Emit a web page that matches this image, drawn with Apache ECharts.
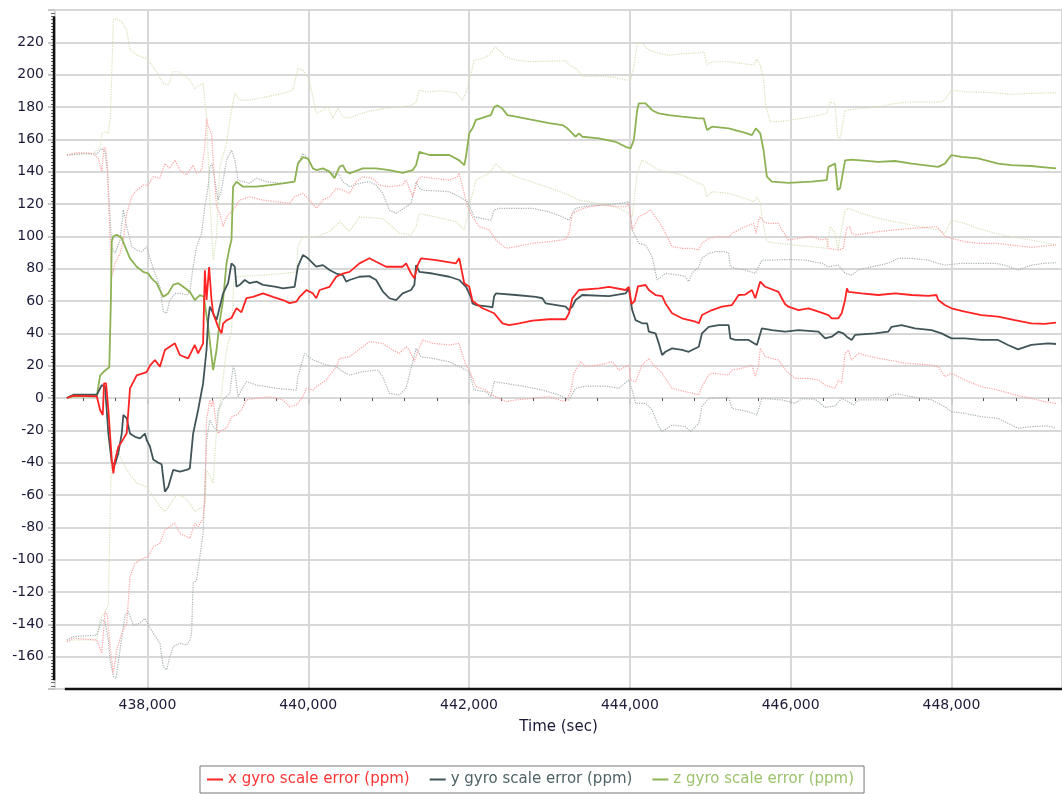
<!DOCTYPE html>
<html>
<head>
<meta charset="utf-8">
<script src="https://cdn.jsdelivr.net/npm/echarts@6.0.0/dist/echarts.min.js"></script>
<style>
  html, body { margin: 0; padding: 0; background: #ffffff; }
  #chart { width: 1062px; height: 794px; }
</style>
</head>
<body>
<div id="chart"></div>
<script>
// Gyro scale-factor error estimates (ppm) over time (s).
// Solid lines: filter estimate; dotted lines: upper / lower uncertainty bound.

const X_NAME = 'x gyro scale error (ppm)';
const Y_NAME = 'y gyro scale error (ppm)';
const Z_NAME = 'z gyro scale error (ppm)';

// ---- x axis ------------------------------------------------------------
const xMain = [
  [436997,0],[437079,1.5],[437370,1],[437411,-7.4],[437444,-10.5],[437460,9.1],[437485,9.1],[437514,-7.4],
  [437556,-38.3],[437576,-46.6],[437597,-38.3],[437638,-30.1],[437680,-27],[437742,-21.8],[437783,6],[437866,14],
  [437990,16],[438031,20],[438093,23.5],[438155,19.4],[438217,29.7],[438341,33.8],[438403,26.6],[438506,24.5],
  [438589,32.8],[438630,27.6],[438692,33.8],[438714,79],[438735,60.6],[438767,81],[438797,60.6],[438817,52.5],
  [438879,44],[438921,40],[438941,46],[438983,48],[439045,49.5],[439107,55.6],[439169,53],[439231,61.8],
  [439313,62.6],[439437,64.7],[439561,62.6],[439685,60.6],[439768,58.7],[439852,59.6],[439893,62.6],[439976,66.8],
  [440058,64.7],[440100,61.7],[440141,66.8],[440265,68.8],[440348,75],[440430,77],[440513,78],[440637,83.3],
  [440761,86.4],[440844,84.3],[440968,81.2],[441174,81.2],[441217,83.3],[441279,77],[441320,74],[441361,82.2],
  [441403,86.4],[441589,85.3],[441837,83.3],[441878,86.4],[441899,81.2],[441940,71],[442002,68.8],[442043,60],
  [442167,55.5],[442312,52.4],[442415,46.2],[442499,45.1],[442623,46.2],[442788,47.8],[442995,48.7],[443202,48.7],
  [443243,52.4],[443284,61.6],[443367,66.8],[443616,67.8],[443740,68.8],[443947,66.8],[443988,68.8],[444020,58],
  [444060,60],[444100,69],[444195,69.9],[444236,66.8],[444319,63.7],[444401,63],[444443,58.5],[444525,52.4],
  [444649,49.3],[444816,47.2],[444857,46.2],[444897,51.3],[445022,54.4],[445146,56.5],[445270,57.5],[445312,60.6],
  [445353,63.7],[445436,64],[445518,66.8],[445560,61.7],[445622,72],[445684,68.8],[445849,65.7],[445890,61.7],
  [445932,58],[445973,56.5],[446097,54.4],[446222,55.5],[446346,53.4],[446470,51.3],[446511,49.3],[446594,49.3],
  [446635,52.4],[446677,60.6],[446700,67.8],[446718,65.7],[446883,64.7],[447090,63.7],[447298,64.7],[447504,63.7],
  [447711,63.2],[447814,63.7],[447835,60.6],[447918,57.5],[448000,55.5],[448166,53.4],[448372,51.3],[448580,50.3],
  [448787,48.2],[448993,46.2],[449159,45.8],[449300,46.6]
];
const xUpper = [
  [436997,150.3],[437121,151.7],[437327,151.3],[437389,148.2],[437432,140],[437460,155.4],[437485,153.4],[437501,143],
  [437535,97.7],[437556,75],[437597,83.3],[437659,89.5],[437700,97.7],[437742,114.2],[437804,124.5],[437866,128.6],
  [437948,131.7],[438010,131.7],[438072,136.9],[438155,135.9],[438217,145],[438279,142],[438341,147.2],[438403,141],
  [438486,138],[438568,144],[438611,139],[438673,141],[438714,155.4],[438735,173],[438755,167.8],[438797,163.7],
  [438817,147.2],[438859,118.3],[438900,114.2],[438941,106],[438983,112.1],[439065,116.3],[439148,122.4],[439272,124.5],
  [439437,122.4],[439603,121.4],[439768,120.4],[439830,124.5],[439933,126.6],[440017,122.4],[440100,117.3],[440182,122.4],
  [440265,124.5],[440348,129.7],[440430,128.6],[440513,126.6],[440596,133.8],[440678,136.9],[440802,135.9],[440885,131.7],
  [441009,130.7],[441174,131.7],[441217,134.8],[441258,129.7],[441299,124.5],[441361,134.8],[441403,136.9],[441547,135.9],
  [441754,134.8],[441857,136.9],[441878,139],[441919,130.7],[441981,118.3],[442043,112],[442126,106],[442250,104],
  [442334,97.7],[442458,92.6],[442582,93.6],[442788,95.7],[442995,96.7],[443202,98.1],[443243,101.9],[443284,114.2],
  [443367,116.3],[443491,118.3],[443656,119.4],[443823,118.3],[443947,118.3],[443988,120.4],[444029,104],[444112,112.1],
  [444195,114.2],[444257,116.3],[444401,106],[444525,93.6],[444649,92.6],[444773,92.6],[444857,91.5],[444897,95.7],
  [444981,98.8],[445105,99.8],[445229,99.4],[445270,101.9],[445436,106],[445539,108],[445568,101.9],[445601,110],
  [445622,112.1],[445663,109],[445725,108],[445849,108],[445890,104],[445973,97.7],[446097,98.8],[446263,99.8],
  [446387,97.7],[446449,98.8],[446470,92.6],[446594,91.5],[446656,92.6],[446697,104.9],[446739,106],[446759,101.9],
  [446801,100.8],[447090,102.9],[447298,104],[447504,104.9],[447711,105.6],[447814,106],[447876,102.9],[447918,99.8],
  [448000,98.8],[448166,96.7],[448331,95.7],[448539,95.7],[448745,94.6],[448993,93.2],[449159,94],[449300,94.6]
];
const xLower = [
  [436997,-150.7],[437079,-148.6],[437370,-149.7],[437432,-157.9],[437473,-132.2],[437501,-134.2],[437535,-153.8],[437576,-170.3],
  [437618,-155.8],[437680,-145.5],[437742,-139.3],[437783,-110.5],[437845,-102.2],[437948,-99.1],[438010,-98.1],[438072,-92],
  [438155,-89.9],[438217,-81.6],[438341,-77.5],[438403,-83.7],[438527,-86.8],[438589,-77.5],[438630,-79.6],[438692,-74.4],
  [438714,-63.1],[438735,-13.6],[438776,-1.2],[438797,-5.4],[438817,-1.2],[438859,-17.7],[438879,-21.8],[438921,-19.8],
  [438983,-18.7],[439045,-11.6],[439107,-10.5],[439169,-7.4],[439231,-1.2],[439355,-0.2],[439520,0.8],[439685,-1.2],
  [439768,-5.4],[439852,-4.3],[439933,0.8],[439976,6],[440058,4.9],[440100,7],[440224,11.1],[440348,19.4],
  [440389,24.5],[440513,25.5],[440678,31.7],[440761,34.8],[440926,33.8],[441050,29.7],[441133,27.6],[441217,31.7],
  [441258,29.7],[441320,22.4],[441361,28.6],[441423,35.9],[441547,33.8],[441754,32.8],[441878,33.8],[441899,29.7],
  [441961,20.4],[442002,17.3],[442085,7],[442209,4.9],[442291,1.9],[442375,-0.2],[442458,-2.3],[442582,-1.2],
  [442788,-0.2],[442995,0.8],[443119,-1.2],[443202,-2.3],[443264,3.9],[443305,15.3],[443388,22.4],[443450,19.4],
  [443616,20.4],[443781,22.4],[443864,17.3],[443988,20.4],[444009,11.1],[444071,10.1],[444153,20.4],[444236,24.5],
  [444277,21.5],[444401,15.3],[444525,6],[444691,3.9],[444857,1.9],[444897,7],[444981,14.2],[445022,15.3],
  [445229,14.2],[445270,17.3],[445394,18.4],[445518,20.4],[445560,13.2],[445601,20],[445622,30.7],[445684,25.5],
  [445849,23.5],[445952,16.3],[446057,12.2],[446222,12.2],[446346,11.1],[446429,8],[446553,6],[446594,11.1],
  [446635,9.1],[446677,27.6],[446718,29.7],[446759,23.5],[446842,27.6],[447007,25.5],[447214,23.5],[447422,21.5],
  [447752,20.4],[447835,19.4],[447918,13.2],[448000,15.3],[448166,11.1],[448372,7],[448580,4.9],[448787,1.9],
  [448993,-0.2],[449159,-2.3],[449300,-3.3]
];

// ---- y axis ------------------------------------------------------------
const yMain = [
  [436997,0],[437079,2],[437370,2],[437432,8],[437473,7],[437514,-22],[437556,-40],[437597,-41],
  [437638,-34],[437680,-22],[437700,-10.5],[437742,-12.6],[437783,-22],[437845,-24],[437907,-25],[437969,-22],
  [437990,-26],[438031,-30],[438072,-38],[438134,-40],[438176,-41],[438217,-58],[438258,-55],[438320,-44.5],
  [438403,-45.6],[438486,-44.5],[438527,-43.5],[438568,-22],[438630,-7.4],[438692,9],[438735,30],[438755,48],
  [438776,56.5],[438817,52.4],[438859,48.2],[438900,56.5],[438941,64.7],[439003,71],[439045,83.3],[439086,81.2],
  [439107,68.8],[439148,70],[439210,73],[439272,71],[439355,72],[439437,70],[439603,68.8],[439685,67.8],
  [439830,68.8],[439871,81.2],[439933,88.4],[439996,86.4],[440058,83.3],[440100,81.2],[440182,82.2],[440265,79.2],
  [440348,77],[440430,76],[440472,72],[440513,73],[440637,75],[440761,75.4],[440844,73],[440926,66],
  [441009,61.7],[441093,60.6],[441174,64.7],[441279,66.8],[441320,70],[441341,82.2],[441382,78],[441547,77],
  [441754,75],[441878,73],[441961,68.8],[442023,62.6],[442043,58.5],[442085,57.5],[442250,56.5],[442291,56],
  [442312,63],[442334,64.7],[442582,63.7],[442830,62.6],[442912,61.7],[442954,58.5],[443202,56.5],[443243,54.4],
  [443284,56.5],[443326,60.6],[443408,63.7],[443740,63],[443947,64.7],[443988,67.8],[444009,60.6],[444029,54.4],
  [444071,48.2],[444153,46.2],[444215,46.2],[444236,41],[444319,40],[444360,33.8],[444401,26.6],[444443,28.6],
  [444525,30.7],[444649,29.7],[444732,28.6],[444773,29.7],[444857,31.7],[444897,40],[444981,44],[445105,45.1],
  [445229,45.1],[445250,36.9],[445312,35.9],[445477,35.9],[445580,32.8],[445642,43.1],[445766,42],[445932,41],
  [446097,42],[446346,41],[446429,36.9],[446511,37.9],[446594,41],[446656,40],[446697,37.9],[446759,35.9],
  [446801,39],[447049,40],[447214,41],[447255,44],[447379,45.1],[447546,43.1],[447752,42],[447876,40],
  [448000,36.9],[448166,36.9],[448372,35.9],[448580,35.9],[448704,32.8],[448828,30.1],[448993,32.8],[449200,33.8],
  [449300,33.4]
];
const yUpper = [
  [436997,150.3],[437203,151.3],[437370,150.9],[437432,154.4],[437473,152.3],[437501,141],[437535,112.1],[437556,93.6],
  [437597,89.5],[437659,97.7],[437700,116.3],[437742,106],[437804,93.6],[437866,91.5],[437928,90.5],[437990,93.6],
  [438031,86.4],[438093,77.1],[438155,68.8],[438196,53.4],[438238,52.4],[438279,60.6],[438341,64.7],[438403,64.7],
  [438486,63.7],[438527,65.7],[438568,81.2],[438611,93.6],[438673,101.9],[438714,118.3],[438755,130.7],[438776,143],
  [438804,145],[438838,134.8],[438879,122.4],[438921,128.6],[438983,147.2],[439045,153.4],[439086,147.2],[439127,134.8],
  [439189,133.8],[439272,132.8],[439355,136],[439479,133.8],[439685,132.8],[439830,133.8],[439871,145],[439933,151.3],
  [439996,148.2],[440058,142],[440141,140],[440224,140],[440306,139],[440389,138],[440430,133.8],[440513,130.7],
  [440637,132.8],[440761,133.8],[440844,131.7],[440926,126.6],[441009,116.3],[441093,114.2],[441217,118.3],[441279,120.4],
  [441320,128.6],[441341,133.8],[441382,129.7],[441423,128.6],[441754,127.6],[441878,124.5],[441981,121.4],[442064,112.1],
  [442167,111],[442271,110],[442312,116.3],[442375,117.3],[442788,117.3],[442995,115.2],[443160,112.1],[443243,110],
  [443326,117.3],[443408,118.3],[443656,119.4],[443823,120],[443988,121.4],[444029,104],[444112,95.7],[444195,94.6],
  [444277,87.4],[444339,73],[444443,77.1],[444608,76],[444691,75],[444732,72],[444773,77.1],[444857,81.2],
  [444897,86.4],[444981,89.5],[445064,90.5],[445188,90.5],[445229,89.5],[445250,81.2],[445312,80.2],[445436,79.2],
  [445560,77.1],[445601,81.2],[445642,85.3],[445766,85.3],[445973,85.7],[446181,85.3],[446387,83.3],[446470,81.2],
  [446594,82.2],[446677,77.1],[446759,76],[446842,79.2],[447007,81.2],[447214,83.3],[447338,86.4],[447504,86.4],
  [447711,85.3],[447835,83.3],[447918,82.2],[448124,83.3],[448331,83.3],[448539,83.3],[448663,82.2],[448828,79.2],
  [448993,82.2],[449159,83.3],[449300,83.7]
];
const yLower = [
  [436997,-149.7],[437079,-147.6],[437370,-146.6],[437432,-137.3],[437473,-138.3],[437514,-150],[437535,-162],[437576,-172.4],
  [437609,-173.4],[437659,-155.8],[437721,-134.2],[437762,-132.2],[437824,-140.4],[437907,-139.3],[437969,-136.3],[438010,-140.4],
  [438072,-145.5],[438155,-151.7],[438196,-166.2],[438238,-168.2],[438279,-160],[438320,-153.8],[438403,-151.7],[438486,-152.8],
  [438527,-149.7],[438549,-145.5],[438568,-114.6],[438611,-112.6],[438652,-98.1],[438692,-83.7],[438714,-54.9],[438735,-26],
  [438776,-13.6],[438817,-17.7],[438859,-19.8],[438879,-7.4],[438941,-1.2],[439024,2.9],[439065,19.4],[439086,17.3],
  [439127,0.8],[439169,4.9],[439231,10.1],[439355,8],[439603,6],[439852,4.9],[439871,13.2],[439955,27.6],
  [440058,23.5],[440224,20.4],[440348,19.4],[440430,16.3],[440513,14.2],[440678,16.3],[440864,17.3],[440926,13.2],
  [441009,2.9],[441133,1.9],[441217,6],[441299,22.4],[441341,30.7],[441403,25.5],[441547,24.5],[441754,22.4],
  [441919,18.4],[442002,16.3],[442064,4.9],[442209,3.9],[442271,0.8],[442312,10.1],[442458,9],[442706,7],
  [442912,4.9],[443119,1.9],[443243,-1.2],[443326,6],[443450,7.4],[443699,7.4],[443864,6],[443988,11.1],
  [444029,4.9],[444071,-3.3],[444195,-3.3],[444277,-7.4],[444360,-17.7],[444401,-20.8],[444525,-16.7],[444691,-17.7],
  [444754,-20.8],[444857,-15.6],[444897,-5.4],[444981,-0.2],[445229,0.4],[445270,-6.4],[445477,-8.5],[445580,-10.5],
  [445642,-0.2],[445890,-1.2],[446057,-3.3],[446138,-0.5],[446305,-0.8],[446429,-5.8],[446553,-4.9],[446635,-0.2],
  [446718,-2.3],[446780,-4.3],[446842,-1.2],[447174,-1.2],[447255,1.9],[447338,2.5],[447504,0.8],[447752,-1.2],
  [447918,-5.4],[448000,-8.5],[448166,-9.5],[448372,-11.6],[448580,-12.6],[448828,-18.7],[448993,-17.7],[449200,-17.3],
  [449300,-18.7]
];

// ---- z axis ------------------------------------------------------------
const zMain = [
  [436997,0],[437079,1],[437370,1],[437411,14],[437473,17],[437525,19],[437545,60],[437556,97],
  [437576,100],[437618,101],[437680,99],[437721,93.6],[437783,86.4],[437866,81.2],[437948,78],[438010,77],
  [438052,74],[438114,71],[438155,66.8],[438196,62.6],[438258,64.7],[438320,70],[438382,71],[438444,68.8],
  [438527,65.7],[438589,60.6],[438652,63.7],[438701,62.6],[438755,44],[438817,17.3],[438838,16.3],[438859,29.7],
  [438900,48],[438941,60.6],[438983,83.3],[439024,93.6],[439045,97.7],[439065,130.7],[439107,133.8],[439189,130.7],
  [439355,130.7],[439520,131.7],[439685,132.8],[439830,133.8],[439871,145],[439933,149],[439996,148],[440058,142],
  [440100,141],[440182,142],[440265,140],[440327,136],[440389,143],[440430,144],[440472,140],[440513,139],
  [440678,142],[440844,142],[441009,141],[441174,139.3],[441299,141],[441341,144],[441382,152.3],[441506,150.3],
  [441754,150.3],[441878,147],[441940,144],[441961,149],[442002,163.7],[442043,166.8],[442085,172],[442147,173],
  [442209,174],[442271,175],[442312,180],[442353,181],[442415,179],[442477,175],[442582,174],[442788,172],
  [442995,170],[443160,168.8],[443222,166.8],[443264,164.7],[443326,161.6],[443367,163.7],[443408,161.6],[443616,160.6],
  [443823,158.5],[443947,155.4],[444009,154.4],[444050,159.6],[444091,178],[444112,182.3],[444195,182.3],[444277,178],
  [444360,176],[444484,175],[444649,174],[444857,173],[444919,173],[444960,165.7],[445022,167.8],[445229,166.8],
  [445436,164],[445518,162.6],[445568,166.8],[445622,163.7],[445663,153.4],[445704,136.9],[445766,133.8],[445973,133.1],
  [446263,133.8],[446449,134.8],[446470,143],[446553,145],[446585,128.6],[446615,129.7],[446677,147],[446759,147.5],
  [447090,146],[447298,146.6],[447504,145],[447835,143],[447918,145],[448000,150.3],[448124,149.2],[448331,148.2],
  [448580,145],[448745,144],[448993,143.5],[449159,142.7],[449300,142]
];
const zUpper = [
  [436997,150.3],[437327,150.9],[437411,155],[437432,163.7],[437473,164.7],[437514,163.7],[437540,175],[437576,233.8],
  [437618,234.8],[437680,232.7],[437742,227.6],[437783,215.2],[437866,212.1],[437990,210],[438052,205.9],[438114,201.8],
  [438196,194.6],[438258,193.6],[438320,201.8],[438382,201.8],[438444,199.8],[438527,196.7],[438589,191.5],[438692,194.6],
  [438735,174],[438776,122.4],[438817,85.3],[438859,100],[438900,143],[438983,157.5],[439045,178],[439086,188.4],
  [439148,184.3],[439272,184.3],[439479,186.3],[439685,188.4],[439809,190.5],[439871,203.9],[439933,202.8],[439996,198.7],
  [440058,186.3],[440100,176],[440182,178],[440244,180.1],[440306,173],[440368,179.2],[440430,174],[440492,173],
  [440513,174],[440720,177],[440926,179],[441133,180],[441279,181],[441341,183],[441382,190.5],[441465,189.4],
  [441671,190],[441837,188.8],[441919,184.3],[441961,188.4],[442023,200.7],[442064,208.9],[442167,210],[442250,212],
  [442321,217.3],[442375,215.2],[442458,211],[442582,209],[442788,208],[442995,208.4],[443202,208.6],[443243,206],
  [443326,203.9],[443367,201.8],[443408,199],[443616,199],[443823,198.3],[443947,196.7],[444009,196.7],[444050,205],
  [444091,219.4],[444153,219.4],[444236,215.2],[444381,213],[444484,212],[444649,213],[444857,213.5],[444919,214.2],
  [444960,206],[445022,208],[445229,208],[445436,206.6],[445539,206],[445580,209.5],[445622,206],[445663,196.7],
  [445692,180.2],[445746,170.9],[445849,170.9],[446057,172.4],[446263,174],[446449,176],[446491,183.2],[446553,182.1],
  [446585,161.6],[446615,160.6],[446677,178],[446883,179.1],[447090,180.1],[447298,182.2],[447504,183.2],[447876,183.2],
  [447918,184.3],[448000,190.5],[448166,189.4],[448539,188.8],[448745,187.8],[448952,188.4],[449300,188.8]
];
const zLower = [
  [436997,-150.7],[437079,-149.7],[437370,-149.7],[437411,-137.3],[437473,-132.2],[437514,-128],[437540,-60],[437556,-34],
  [437618,-32],[437742,-44.5],[437866,-52.8],[437990,-54.9],[438072,-61],[438155,-67.2],[438217,-70.3],[438279,-66],
  [438362,-60],[438444,-61],[438527,-65],[438589,-70.3],[438652,-68.2],[438714,-67.2],[438735,-45],[438776,-48],
  [438817,-52.8],[438859,-20],[438900,-5],[438983,30],[439045,41],[439075,72],[439107,75],[439437,76],
  [439685,77],[439852,78],[439871,93.6],[439933,99.8],[440100,99.8],[440265,102.9],[440389,109],[440513,103],
  [440637,112],[440926,111],[441133,101.9],[441279,100.8],[441341,106],[441382,114],[441589,112],[441837,109],
  [441940,104],[442002,118.3],[442085,134.8],[442167,136.9],[442250,139],[442334,145],[442415,141],[442582,136.9],
  [442830,132.8],[443078,128.6],[443243,125.5],[443367,122.4],[443616,120.4],[443823,118.3],[443988,114.2],[444029,112.1],
  [444091,139],[444153,147.2],[444236,145],[444360,141],[444649,138],[444857,132.8],[444919,131.7],[444960,124.5],
  [445022,127.6],[445229,126.6],[445436,123.5],[445539,121.4],[445580,124.5],[445622,120.4],[445663,106],[445704,96.7],
  [445849,95.7],[446057,94.6],[446263,93.6],[446449,92.6],[446491,106],[446553,101.9],[446585,91.5],[446677,116.3],
  [446718,117.3],[446883,114.2],[447090,111.1],[447298,109],[447504,107],[447835,104],[447918,101.9],[448000,110],
  [448166,108],[448331,104.9],[448539,101.9],[448745,99.8],[448993,97.7],[449300,94.6]
];

// ---- styling -------------------------------------------------------------
const FONT = 'DejaVu Sans, Verdana, sans-serif';
const LABEL_COLOR = '#1b1b38';
const GRID_COLOR = '#d8d8d8';

const MAIN = [
  { name: Z_NAME, data: zMain, color: '#8cb253', legend: '#9cc26c' },
  { name: Y_NAME, data: yMain, color: '#415558', legend: '#4f6266' },
  { name: X_NAME, data: xMain, color: '#ff2323', legend: '#ff3535' }
];
const BOUNDS = [
  { name: 'z upper bound', data: zUpper, color: '#d3e2b7' },
  { name: 'z lower bound', data: zLower, color: '#d3e2b7' },
  { name: 'y upper bound', data: yUpper, color: '#a8b2b3' },
  { name: 'y lower bound', data: yLower, color: '#a8b2b3' },
  { name: 'x upper bound', data: xUpper, color: '#ffa2a2' },
  { name: 'x lower bound', data: xLower, color: '#ffa2a2' }
];

const series = [];
BOUNDS.forEach(b => series.push({
  name: b.name, type: 'line', data: b.data, symbol: 'none', silent: true, z: 2,
  lineStyle: { color: b.color, width: 1.2, type: 'dotted' }
}));
MAIN.forEach((m, i) => series.push({
  name: m.name, type: 'line', data: m.data, symbol: 'none', silent: true, z: 3 + i,
  color: m.color,
  lineStyle: { color: m.color, width: 1.8 }
}));

const chart = echarts.init(document.getElementById('chart'), null, { renderer: 'canvas' });

chart.setOption({
  animation: false,
  backgroundColor: '#ffffff',
  textStyle: { fontFamily: FONT },
  grid: {
    left: 55, right: -2, top: 10, bottom: 105,
    show: true, borderColor: '#8a8a8a', borderWidth: 2, backgroundColor: 'transparent'
  },
  xAxis: {
    type: 'value',
    min: 436850, max: 449375,
    splitNumber: 6,
    name: 'Time (sec)',
    nameLocation: 'middle',
    nameGap: 31,
    nameTextStyle: { color: LABEL_COLOR, fontSize: 15, fontFamily: FONT },
    axisLine: { show: false },
    axisTick: { show: true, length: 6, lineStyle: { color: '#c8c8c8', width: 2 } },
    minorTick: { show: true, splitNumber: 5, length: 3, lineStyle: { color: '#555555', width: 1 } },
    axisLabel: {
      color: LABEL_COLOR, fontSize: 14, fontFamily: FONT, margin: 9,
      showMinLabel: false, showMaxLabel: false
    },
    splitLine: { show: true, lineStyle: { color: GRID_COLOR, width: 2 } }
  },
  yAxis: {
    type: 'value',
    min: -180, max: 240, interval: 20,
    axisLine: { show: false },
    axisTick: { show: true, length: 7, lineStyle: { color: '#c8c8c8', width: 2 } },
    minorTick: { show: true, splitNumber: 10, length: 4, lineStyle: { color: '#666666', width: 1 } },
    axisLabel: {
      color: LABEL_COLOR, fontSize: 14, fontFamily: FONT, margin: 11,
      showMinLabel: false, showMaxLabel: false
    },
    splitLine: { show: true, lineStyle: { color: GRID_COLOR, width: 2 } }
  },
  legend: {
    data: MAIN.slice().reverse().map(m => ({ name: m.name, textStyle: { color: m.legend } })),
    left: 200, top: 766,
    orient: 'horizontal',
    icon: 'rect',
    itemWidth: 16, itemHeight: 2, itemGap: 20,
    padding: [6, 10, 6, 7],
    borderColor: '#777777', borderWidth: 1,
    selectedMode: false,
    textStyle: { fontFamily: FONT, fontSize: 15 }
  },
  series: series
});

// Black axis lines drawn only across the span that holds data.
(function drawAxisLines() {
  let tMin = Infinity, tMax = -Infinity, vMin = Infinity, vMax = -Infinity;
  [xMain, xUpper, xLower, yMain, yUpper, yLower, zMain, zUpper, zLower].forEach(arr => {
    arr.forEach(p => {
      if (p[0] < tMin) tMin = p[0];
      if (p[0] > tMax) tMax = p[0];
      if (p[1] < vMin) vMin = p[1];
      if (p[1] > vMax) vMax = p[1];
    });
  });
  const lo = chart.convertToPixel({ gridIndex: 0 }, [tMin, vMin]);
  const hi = chart.convertToPixel({ gridIndex: 0 }, [tMax, vMax]);
  const rect = chart.getModel().getComponent('grid', 0).coordinateSystem.getRect();
  const axisX = rect.x - 1;
  const axisY = rect.y + rect.height;
  chart.setOption({
    graphic: [
      { type: 'line', z: 10, silent: true,
        shape: { x1: axisX, y1: hi[1] - 2, x2: axisX, y2: lo[1] + 2 },
        style: { stroke: '#111111', lineWidth: 2.5 } },
      { type: 'line', z: 10, silent: true,
        shape: { x1: lo[0] - 2, y1: axisY, x2: rect.x + rect.width, y2: axisY },
        style: { stroke: '#111111', lineWidth: 2.5 } }
    ]
  });
})();
</script>
</body>
</html>
